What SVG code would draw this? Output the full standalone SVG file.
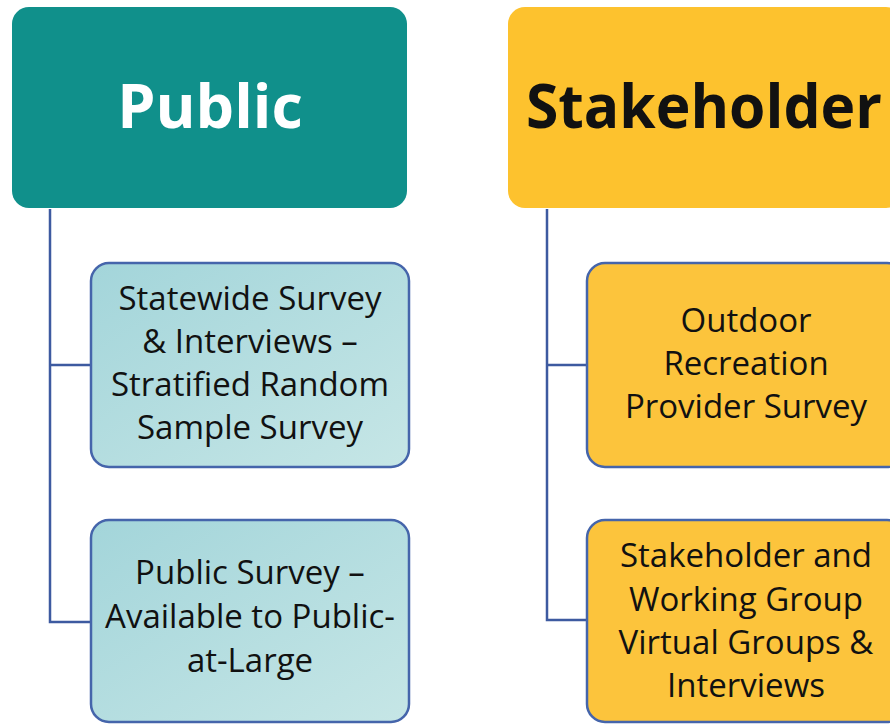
<svg xmlns="http://www.w3.org/2000/svg" width="890" height="724" viewBox="0 0 890 724">
<defs>
<linearGradient id="tealGrad" x1="0" y1="0" x2="1" y2="1">
<stop offset="0" stop-color="#a3d5da"/>
<stop offset="1" stop-color="#c6e6e6"/>
</linearGradient>
<style>
.head{font-family:"Open Sans","Noto Sans","Liberation Sans",sans-serif;font-weight:bold;text-anchor:middle}
.lbl{font-family:"Open Sans","Noto Sans","Liberation Sans",sans-serif;font-size:33px;fill:#111;text-anchor:middle}
.conn{fill:none;stroke:#3d5aa0;stroke-width:2.5}
.childL{fill:url(#tealGrad);stroke:#4565ab;stroke-width:2.5}
.childR{fill:#fcc43c;stroke:#4565ab;stroke-width:2.5}
</style>
</defs>
<rect width="890" height="724" fill="#ffffff"/>
<g id="connectors">
<path class="conn" d="M50,209 V622 H91 M50,365 H91"/>
<path class="conn" d="M547,209 V620 H587 M547,365 H587"/>
</g>
<g id="public">
<rect x="12" y="7" width="395" height="201" rx="17" fill="#10908b"/>
<text class="head" x="210" y="128" font-size="61" fill="#ffffff">Public</text>
</g>
<g id="stakeholder">
<rect x="508" y="7" width="395" height="201" rx="17" fill="#fdc22e"/>
<text class="head" x="704" y="128" font-size="60" fill="#111111" textLength="356" lengthAdjust="spacingAndGlyphs">Stakeholder</text>
</g>
<g id="statewide">
<rect class="childL" x="91" y="263" width="318" height="204" rx="18"/>
<text class="lbl" x="250" y="310">Statewide Survey</text>
<text class="lbl" x="250" y="353">&amp; Interviews –</text>
<text class="lbl" x="250" y="396">Stratified Random</text>
<text class="lbl" x="250" y="439">Sample Survey</text>
</g>
<g id="publicsurvey">
<rect class="childL" x="91" y="520" width="318" height="202" rx="18"/>
<text class="lbl" x="250" y="584">Public Survey –</text>
<text class="lbl" x="250" y="628">Available to Public-</text>
<text class="lbl" x="250" y="672">at-Large</text>
</g>
<g id="outdoor">
<rect class="childR" x="587" y="263" width="318" height="204" rx="18"/>
<text class="lbl" x="746" y="332">Outdoor</text>
<text class="lbl" x="746" y="375">Recreation</text>
<text class="lbl" x="746" y="418">Provider Survey</text>
</g>
<g id="working">
<rect class="childR" x="587" y="520" width="318" height="202" rx="18"/>
<text class="lbl" x="746" y="567">Stakeholder and</text>
<text class="lbl" x="746" y="611">Working Group</text>
<text class="lbl" x="746" y="654">Virtual Groups &amp;</text>
<text class="lbl" x="746" y="697">Interviews</text>
</g>
</svg>
